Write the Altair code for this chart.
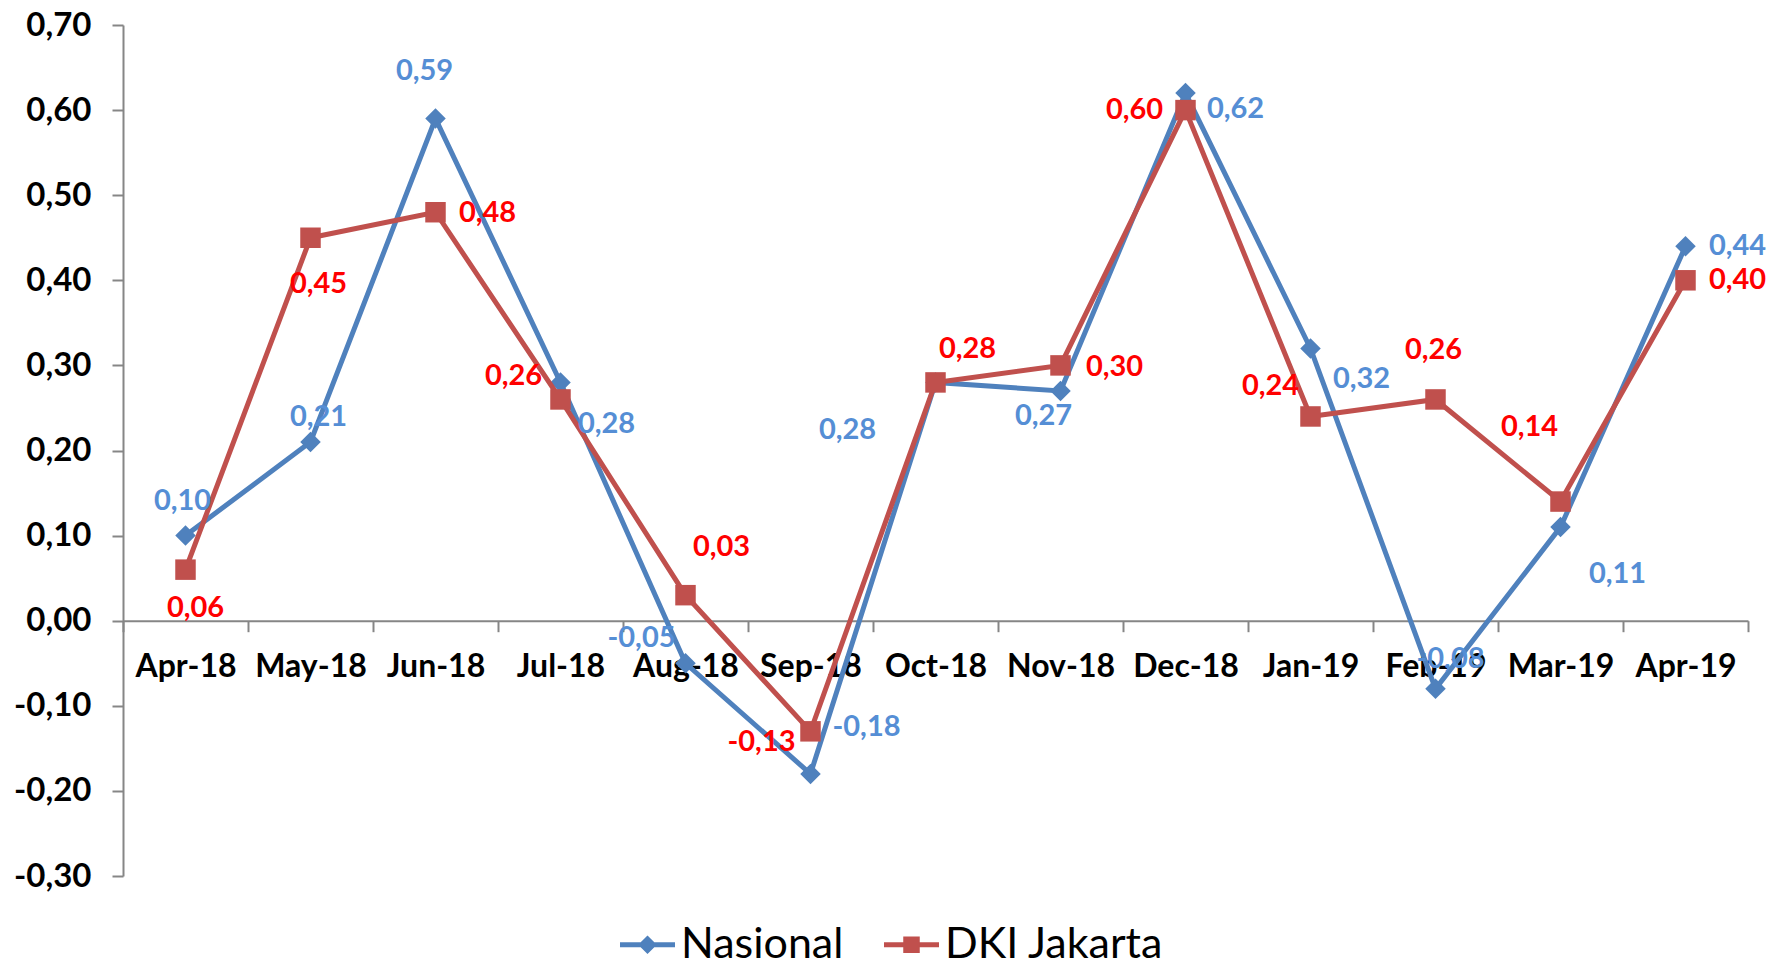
import altair as alt
import pandas as pd

# ---------------- data ----------------
months = ["Apr-18", "May-18", "Jun-18", "Jul-18", "Aug-18", "Sep-18", "Oct-18",
          "Nov-18", "Dec-18", "Jan-19", "Feb-19", "Mar-19", "Apr-19"]
nasional = [0.10, 0.21, 0.59, 0.28, -0.05, -0.18, 0.28, 0.27, 0.62, 0.32, -0.08, 0.11, 0.44]
dki = [0.06, 0.45, 0.48, 0.26, 0.03, -0.13, 0.28, 0.30, 0.60, 0.24, 0.26, 0.14, 0.40]
series_names = ["Nasional", "DKI Jakarta"]
y_ticks = [-0.3, -0.2, -0.1, 0.0, 0.1, 0.2, 0.3, 0.4, 0.5, 0.6, 0.7]

# data-label placement (pixel offsets from each point, as in the reference)
nas_label_dx = [-3, 8, -11, 46, -44, 56, -88, -17, 50, 51, 15, 57, 52]
nas_label_dy = [-35, -25, -48, 42, -25, -47, 48, 25, 16, 31, -30, 47, 0]
dki_label_dx = [10, 8, 52, -47, 36, -49, 32, 54, -51, -40, -2, -31, 52]
dki_label_dy = [38, 46, 1, -23, -48, 11, -33, 2, 0, -30, -49, -75, 0]

BLUE, RED = "#4F81BD", "#C0504D"
BLUE_LBL, RED_LBL = "#558ED5", "#FF0000"
AXIS_GRAY = "#868686"
FONT = "Lato"

def fmt(v):
    return f"{v:.2f}".replace(".", ",")

rows = []
for name, vals, dxs, dys in [("Nasional", nasional, nas_label_dx, nas_label_dy),
                             ("DKI Jakarta", dki, dki_label_dx, dki_label_dy)]:
    for m, v, dx, dy in zip(months, vals, dxs, dys):
        rows.append({"month": m, "series": name, "value": v, "label": fmt(v), "dx": dx, "dy": dy})
df = pd.DataFrame(rows)

W, H = 1625, 851
ymin, ymax = -0.3, 0.7
step = W / len(months)
px_per_unit = H / (ymax - ymin)

xscale = alt.Scale(type="band", paddingInner=0, paddingOuter=0)
yscale = alt.Scale(domain=[ymin, ymax], nice=False, zero=False)

x_axis = alt.Axis(title=None, orient="bottom", offset=-(0 - ymin) * px_per_unit,
                  tickBand="extent", tickSize=11, tickColor=AXIS_GRAY, tickWidth=2,
                  domainColor=AXIS_GRAY, domainWidth=2, labelAngle=0,
                  labelFont=FONT, labelFontWeight="bold", labelFontSize=32,
                  labelColor="black", labelPadding=20)
y_axis = alt.Axis(title=None, values=y_ticks, grid=False,
                  labelExpr="replace(replace(format(datum.value, '.2f'), '.', ','), '\u2212', '-')",
                  tickSize=11, tickColor=AXIS_GRAY, tickWidth=2,
                  domainColor=AXIS_GRAY, domainWidth=2,
                  labelFont=FONT, labelFontWeight="bold", labelFontSize=33,
                  labelColor="black", labelPadding=21)

X = alt.X("month:N", sort=months, bandPosition=0.5, scale=xscale, axis=x_axis)
Y = alt.Y("value:Q", scale=yscale, axis=y_axis)

base = alt.Chart(df)

def line_layers(name, color, shape, size):
    d = base.transform_filter(alt.datum.series == name)
    line = d.mark_line(color=color, strokeWidth=5).encode(x=X, y=Y)
    pts = d.mark_point(shape=shape, size=size, filled=True, color=color, opacity=1).encode(x=X, y=Y)
    return [line, pts]

def label_layer(name, color):
    d = base.transform_filter(alt.datum.series == name).transform_calculate(
        ox=f"datum.dx + {step / 2}",
        ly=f"datum.value - datum.dy / {px_per_unit}",
    )
    return d.mark_text(font=FONT, fontWeight="bold", fontSize=29, color=color,
                       align="center", baseline="middle").encode(
        x=alt.X("month:N", sort=months, scale=xscale, axis=x_axis),
        xOffset=alt.XOffset("ox:Q", scale=None),
        y=alt.Y("ly:Q", scale=yscale, axis=y_axis),
        text="label:N")

path_nas = "M-1,-0.09 L1,-0.09 L1,0.09 L-1,0.09 Z M0,-0.34 L0.34,0 L0,0.34 L-0.34,0 Z"
path_dki = "M-1,-0.09 L1,-0.09 L1,0.09 L-1,0.09 Z M-0.3,-0.3 L0.3,-0.3 L0.3,0.3 L-0.3,0.3 Z"

leg = alt.Legend(title=None, orient="none", legendX=497, legendY=892, direction="horizontal",
                 labelFont=FONT, labelFontSize=43, labelColor="black", labelLimit=500,
                 symbolSize=3025, labelOffset=6, columnPadding=40,
                 symbolStrokeWidth=0, symbolOpacity=1)

legend_layer = base.transform_filter("false").mark_point(filled=True, size=3025, opacity=1, strokeWidth=0).encode(
    x=X, y=Y,
    color=alt.Color("series:N", scale=alt.Scale(domain=series_names, range=[BLUE, RED]), legend=leg),
    shape=alt.Shape("series:N", scale=alt.Scale(domain=series_names, range=[path_nas, path_dki]), legend=leg),
)

layers = (line_layers("Nasional", BLUE, "diamond", 420)
          + line_layers("DKI Jakarta", RED, "square", 420)
          + [label_layer("Nasional", BLUE_LBL), label_layer("DKI Jakarta", RED_LBL)]
          + [legend_layer])

chart = alt.layer(*layers).properties(
    width=W, height=H,
    padding={"left": 115, "top": 17, "right": 20, "bottom": 93},
    autosize=alt.AutoSizeParams(type="none"),
).configure_view(stroke=None)

chart.save("out.html", embed_options={"renderer": "svg", "actions": False})
